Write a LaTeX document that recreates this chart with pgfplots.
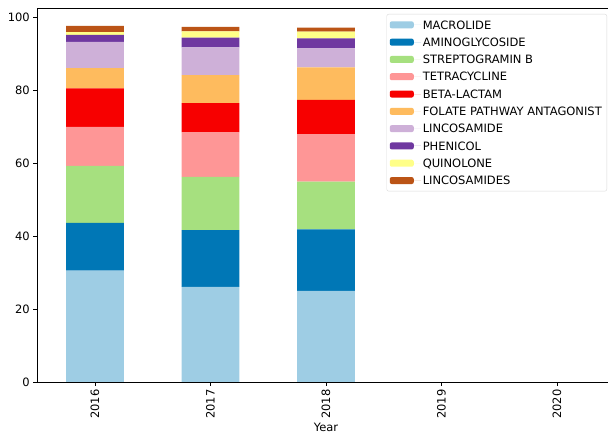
\documentclass[border=0pt]{standalone}
\usepackage{fontspec}
\setmainfont{DejaVu Sans}
\usepackage{pgfplots}
\usepackage{pgfplotstable}
\pgfplotsset{compat=1.18}

\definecolor{cMac}{HTML}{9ECDE4}
\definecolor{cAmi}{HTML}{0077B6}
\definecolor{cStr}{HTML}{A6E07F}
\definecolor{cTet}{HTML}{FE9696}
\definecolor{cBet}{HTML}{F70000}
\definecolor{cFol}{HTML}{FEBB5E}
\definecolor{cLin}{HTML}{CEB0D8}
\definecolor{cPhe}{HTML}{6F38A0}
\definecolor{cQui}{HTML}{FFFF88}
\definecolor{cLis}{HTML}{BB5416}

% year index, then shares (%) per class
\pgfplotstableread{
x  mac  ami  str  tet  bet  fol  lin  phe  qui  lis
0  30.5 13.1 15.6 10.7 10.6 5.5  7.2  1.9  0.8  1.7
1  26.1 15.5 14.6 12.3 7.9  7.7  7.6  2.7  1.7  1.2
2  25.0 16.8 13.1 13.0 9.4  8.9  5.2  2.8  1.8  1.1
}\shares

\newcommand\fs{\fontsize{11.5}{13.8}\selectfont}

\begin{document}
\begin{tikzpicture}
\begin{axis}[
  scale only axis,
  width=577.5pt, height=374pt,
  ybar stacked,
  bar width=0.5,
  xmin=-0.5, xmax=4.5,
  ymin=0, ymax=102.5,
  xtick={0,1,2,3,4},
  xticklabels={2016,2017,2018,2019,2020},
  ytick={0,20,40,60,80,100},
  xtick pos=left, ytick pos=left,
  tick align=outside,
  major tick length=4pt,
  tick style={black, line width=0.9pt},
  axis line style={line width=0.9pt},
  x tick label style={rotate=90, anchor=east},
  tick label style={font=\fs},
  /pgf/number format/assume math mode=true,
  xlabel={Year},
  xlabel style={font=\fs, yshift=3pt},
  legend cell align=left,
  legend style={
    at={(1,1)}, anchor=north east, xshift=-7.75pt, yshift=-6pt,
    draw=black!15, rounded corners=2pt,
    font=\fs,
    nodes={text height=8.4pt, text depth=0pt, inner ysep=4.45pt},
  },
  legend image code/.code={%
    \path[#1, draw=none] (0pt,-3.5pt) rectangle (24pt,3.5pt);
    \path (0pt,0pt) -- (31pt,0pt);},
  every axis plot/.append style={draw=none},
]
\addplot[fill=cMac] table[x=x, y=mac] {\shares};
\addplot[fill=cAmi] table[x=x, y=ami] {\shares};
\addplot[fill=cStr] table[x=x, y=str] {\shares};
\addplot[fill=cTet] table[x=x, y=tet] {\shares};
\addplot[fill=cBet] table[x=x, y=bet] {\shares};
\addplot[fill=cFol] table[x=x, y=fol] {\shares};
\addplot[fill=cLin] table[x=x, y=lin] {\shares};
\addplot[fill=cPhe] table[x=x, y=phe] {\shares};
\addplot[fill=cQui] table[x=x, y=qui] {\shares};
\addplot[fill=cLis] table[x=x, y=lis] {\shares};
\legend{MACROLIDE, AMINOGLYCOSIDE, STREPTOGRAMIN B, TETRACYCLINE, BETA-LACTAM,
  FOLATE PATHWAY ANTAGONIST, LINCOSAMIDE, PHENICOL, QUINOLONE, LINCOSAMIDES}
\end{axis}
% the reference is cut off a little short of the right spine
\pgfresetboundingbox
\path[use as bounding box] (-37.25pt,-51pt) rectangle (570.75pt,382pt);
\end{tikzpicture}
\end{document}
